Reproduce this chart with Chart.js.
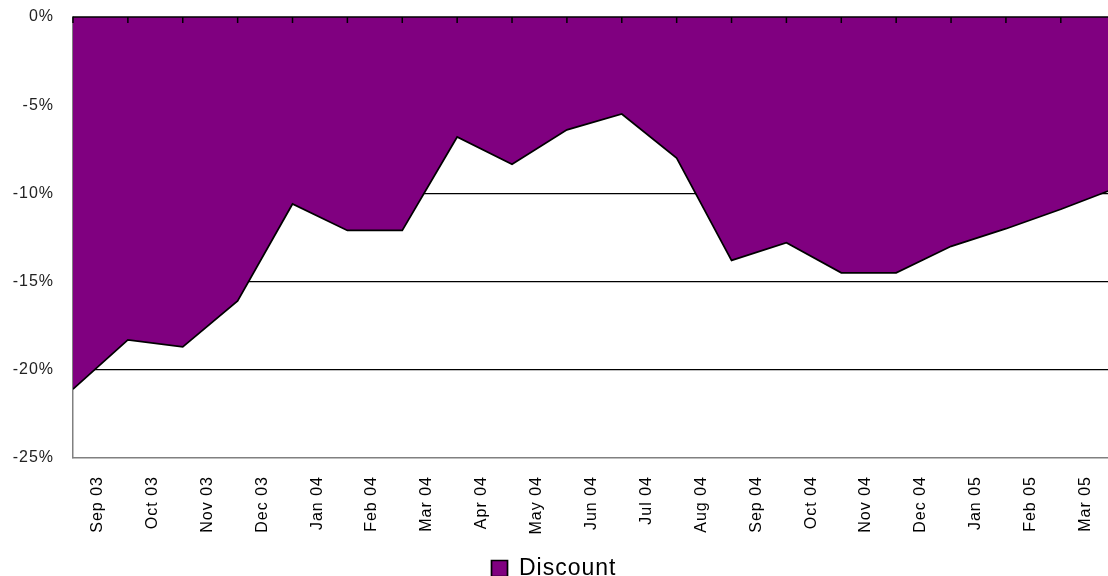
<!DOCTYPE html>
<html><head><meta charset="utf-8">
<script src="https://cdn.jsdelivr.net/npm/chart.js@4.4.1/dist/chart.umd.min.js"></script>
<style>html,body{margin:0;padding:0;background:#fff;overflow:hidden}canvas{display:block}</style>
</head><body>
<canvas id="c" width="1108" height="576"></canvas>
<script>
// Category labels (months), shown between the monthly data points
const monthLabels = ['Sep 03','Oct 03','Nov 03','Dec 03','Jan 04','Feb 04','Mar 04','Apr 04','May 04','Jun 04','Jul 04','Aug 04','Sep 04','Oct 04','Nov 04','Dec 04','Jan 05','Feb 05','Mar 05'];
// Discount series (%), one value per month boundary
const discount = [-21.1,-18.3,-18.7,-16.1,-10.6,-12.1,-12.1,-6.8,-8.35,-6.4,-5.5,-8.0,-13.8,-12.8,-14.5,-14.5,-13.0,-12.0,-10.9,-9.7];
const seriesName = 'Discount';
// Y tick values (%)
const yTickValues = [0,-5,-10,-15,-20,-25];

const FONT = "'Liberation Sans', Arial, sans-serif";

const spacingPlugin = {
  id: 'spacing',
  beforeLayout(chart) { chart.ctx.letterSpacing = '1px'; },
  beforeDraw(chart) { chart.ctx.letterSpacing = '1px'; }
};

const topAxisPlugin = {
  id: 'topAxis',
  afterDatasetsDraw(chart) {
    const {ctx, chartArea, scales} = chart;
    const xs = scales.x;
    ctx.save();
    ctx.strokeStyle = '#000';
    ctx.lineWidth = 1.5;
    ctx.beginPath();
    ctx.moveTo(chartArea.left, chartArea.top);
    ctx.lineTo(chartArea.right, chartArea.top);
    for (let i = 0; i < discount.length; i++) {
      const px = xs.getPixelForValue(i);
      if (px > chartArea.right) break;
      ctx.moveTo(px, chartArea.top);
      ctx.lineTo(px, chartArea.top + 6);
    }
    ctx.stroke();
    ctx.restore();
  }
};

new Chart(document.getElementById('c'), {
  type: 'line',
  data: {
    datasets: [{
      label: seriesName,
      data: discount.map((v, i) => ({x: i, y: v})),
      borderColor: '#000',
      borderWidth: 1.7,
      backgroundColor: '#800080',
      fill: 'end',
      pointRadius: 0,
      tension: 0
    }]
  },
  options: {
    responsive: false,
    animation: false,
    layout: {padding: {top: 17, left: 0, right: 0, bottom: -14}},
    plugins: {
      tooltip: {enabled: false},
      legend: {
        position: 'bottom',
        labels: {
          boxWidth: 16, boxHeight: 16, padding: 2,
          color: '#000',
          font: {family: FONT, size: 23}
        }
      }
    },
    scales: {
      x: {
        type: 'linear',
        min: 0,
        max: 18.86,
        afterBuildTicks(scale) { scale.ticks = monthLabels.map((_, i) => ({value: i + 0.45})); },
        afterFit(scale) {
          scale.height = 132 - scale.chart.legend.height;
          scale.paddingLeft = 0; scale.paddingRight = 0;
        },
        ticks: {
          autoSkip: false,
          maxRotation: 90, minRotation: 90,
          padding: 18,
          color: '#000',
          font: {family: FONT, size: 16},
          callback: (v, i) => monthLabels[i]
        },
        grid: {display: false, drawTicks: false},
        border: {display: true, color: '#808080', width: 1.5}
      },
      y: {
        min: -25,
        max: 0,
        afterBuildTicks(scale) { scale.ticks = yTickValues.map(v => ({value: v})); },
        afterFit(scale) {
          scale.width = 73;
          scale.paddingTop = 0; scale.paddingBottom = 0;
        },
        ticks: {
          padding: 19,
          color: '#222',
          font: {family: FONT, size: 16},
          callback: v => v + '%'
        },
        grid: {
          drawTicks: false,
          color: c => (c.tick && (c.tick.value === 0 || c.tick.value === -25)) ? 'rgba(0,0,0,0)' : '#000',
          lineWidth: 1.3
        },
        border: {display: true, color: '#808080', width: 1.5}
      }
    }
  },
  plugins: [spacingPlugin, topAxisPlugin]
});
</script>
</body></html>
